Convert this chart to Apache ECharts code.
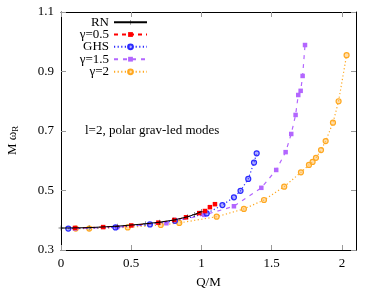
<!DOCTYPE html>
<html><head><meta charset="utf-8">
<script src="https://cdn.jsdelivr.net/npm/echarts@6/dist/echarts.min.js"></script>
<style>html,body{margin:0;padding:0;background:#fff}#c{width:378px;height:291px}</style>
</head><body><div id="c"></div>
<script>
const xTicks = [0, 0.5, 1, 1.5, 2];
const yTicks = [0.3, 0.5, 0.7, 0.9, 1.1];
const seriesNames = ['RN', 'γ=0.5', 'GHS', 'γ=1.5', 'γ=2'];
const rnData = [[0,0.3737],[0.2,0.3752],[0.4,0.3800],[0.6,0.3880],[0.7,0.3935],[0.8,0.4005],[0.9,0.4115],[0.95,0.4195],[1.0,0.4290]];
const g05Data = [[0.1,0.3742],[0.3,0.3770],[0.5,0.3825],[0.693,0.392],[0.806,0.401],[0.890,0.410],[0.984,0.424],[1.025,0.431],[1.060,0.444],[1.096,0.454]];
const ghsData = [[0.052,0.372],[0.388,0.376],[0.633,0.386],[0.811,0.398],[1.037,0.423],[1.149,0.451],[1.231,0.477],[1.278,0.499],[1.333,0.539],[1.374,0.594],[1.393,0.625]];
const g15Data = [[0.1,0.3725],[0.4,0.3765],[0.75,0.390],[1.02,0.418],[1.231,0.447],[1.426,0.509],[1.532,0.569],[1.599,0.629],[1.639,0.690],[1.670,0.754],[1.689,0.821],[1.706,0.835],[1.720,0.885],[1.737,0.989]];
const g2Data = [[0.105,0.372],[0.201,0.372],[0.475,0.376],[0.710,0.384],[0.842,0.391],[1.108,0.412],[1.302,0.438],[1.445,0.468],[1.589,0.513],[1.708,0.561],[1.765,0.586],[1.791,0.596],[1.815,0.610],[1.851,0.636],[1.884,0.666],[1.936,0.728],[1.976,0.800],[2.033,0.955]];

const FONT = 'Liberation Serif';
const chart = echarts.init(document.getElementById('c'), null, {renderer: 'canvas'});
const tickStyle = {color: '#999', width: 1};
const axisLineStyle = {color: '#000', width: 1};
const legendRows = [22.3, 34.5, 46.8, 59.2, 71.8];
const legends = seriesNames.map((n, i) => ({
  data: [n], right: 230, top: legendRows[i] - 7, align: 'right', orient: 'vertical',
  itemWidth: 33, itemHeight: 6, padding: 0, selectedMode: false,
  textStyle: {fontFamily: FONT, fontSize: 13, color: '#000', lineHeight: 14}
}));
const option = {
  animation: false,
  backgroundColor: '#fff',
  grid: {left: 61, right: 22, top: 12, bottom: 41, outerBoundsMode: 'none', containLabel: false},
  legend: legends,
  xAxis: [
    {type: 'value', min: 0, max: 2.1, position: 'bottom',
     axisLine: {show: true, onZero: false, lineStyle: axisLineStyle},
     axisTick: {show: true, inside: true, length: 5, customValues: xTicks, lineStyle: tickStyle},
     axisLabel: {customValues: xTicks, formatter: v => String(v), margin: 7, fontFamily: FONT, fontSize: 13, color: '#000'},
     splitLine: {show: false},
     name: 'Q/M', nameLocation: 'middle', nameGap: 26,
     nameTextStyle: {fontFamily: FONT, fontSize: 13, color: '#000'}},
    {type: 'value', min: 0, max: 2.1, position: 'top',
     axisLine: {show: true, onZero: false, lineStyle: axisLineStyle},
     axisTick: {show: true, inside: true, length: 5, customValues: xTicks, lineStyle: tickStyle},
     axisLabel: {show: false}, splitLine: {show: false}}
  ],
  yAxis: [
    {type: 'value', min: 0.3, max: 1.1, position: 'left',
     axisLine: {show: true, onZero: false, lineStyle: axisLineStyle},
     axisTick: {show: true, inside: true, length: 5, customValues: yTicks, lineStyle: tickStyle},
     axisLabel: {customValues: yTicks, formatter: v => v.toFixed(1), margin: 7, fontFamily: FONT, fontSize: 13, color: '#000'},
     splitLine: {show: false}},
    {type: 'value', min: 0.3, max: 1.1, position: 'right',
     axisLine: {show: true, onZero: false, lineStyle: axisLineStyle},
     axisTick: {show: true, inside: true, length: 5, customValues: yTicks, lineStyle: tickStyle},
     axisLabel: {show: false}, splitLine: {show: false}}
  ],
  graphic: [
    {type: 'text', left: 85, top: 124, style: {text: 'l=2, polar grav-led modes', font: '13px "Liberation Serif"', fill: '#000'}},
    {type: 'text', x: 5, y: 155, rotation: Math.PI / 2,
     style: {text: 'M ω{s|R}', font: '13px "Liberation Serif"', fill: '#000',
       rich: {s: {fontSize: 9, fontFamily: FONT, verticalAlign: 'bottom', padding: [6, 0, 0, 0]}}}}
  ],
  series: [
    {name: seriesNames[0], type: 'line', data: rnData, z: 5,
     symbol: 'path://M0,4.6H10V5.4H0Z M4.6,0H5.4V10H4.6Z', symbolSize: 5,
     lineStyle: {color: '#000', width: 1}, itemStyle: {color: '#000'}},
    {name: seriesNames[1], type: 'line', data: g05Data, z: 4,
     symbol: 'rect', symbolSize: 4.5,
     lineStyle: {color: '#ff0000', width: 1, type: [4, 4]}, itemStyle: {color: '#ff0000'}},
    {name: seriesNames[2], type: 'line', data: ghsData, z: 3,
     symbol: 'circle', symbolSize: 5,
     lineStyle: {color: '#2a2aff', width: 1.2, type: [1.2, 2.4]},
     itemStyle: {color: 'rgba(80,80,255,0.45)', borderColor: '#2a2aff', borderWidth: 1.2}},
    {name: seriesNames[3], type: 'line', data: g15Data, z: 2,
     symbol: 'rect', symbolSize: 4.5,
     lineStyle: {color: '#b366ff', width: 1.2, type: [4, 5]}, itemStyle: {color: '#b366ff'}},
    {name: seriesNames[4], type: 'line', data: g2Data, z: 1,
     symbol: 'circle', symbolSize: 5,
     lineStyle: {color: '#ffa820', width: 1.2, type: [1.2, 2.4]},
     itemStyle: {color: 'rgba(255,190,90,0.5)', borderColor: '#ffa820', borderWidth: 1.2}}
  ]
};
chart.setOption(option);
</script></body></html>
